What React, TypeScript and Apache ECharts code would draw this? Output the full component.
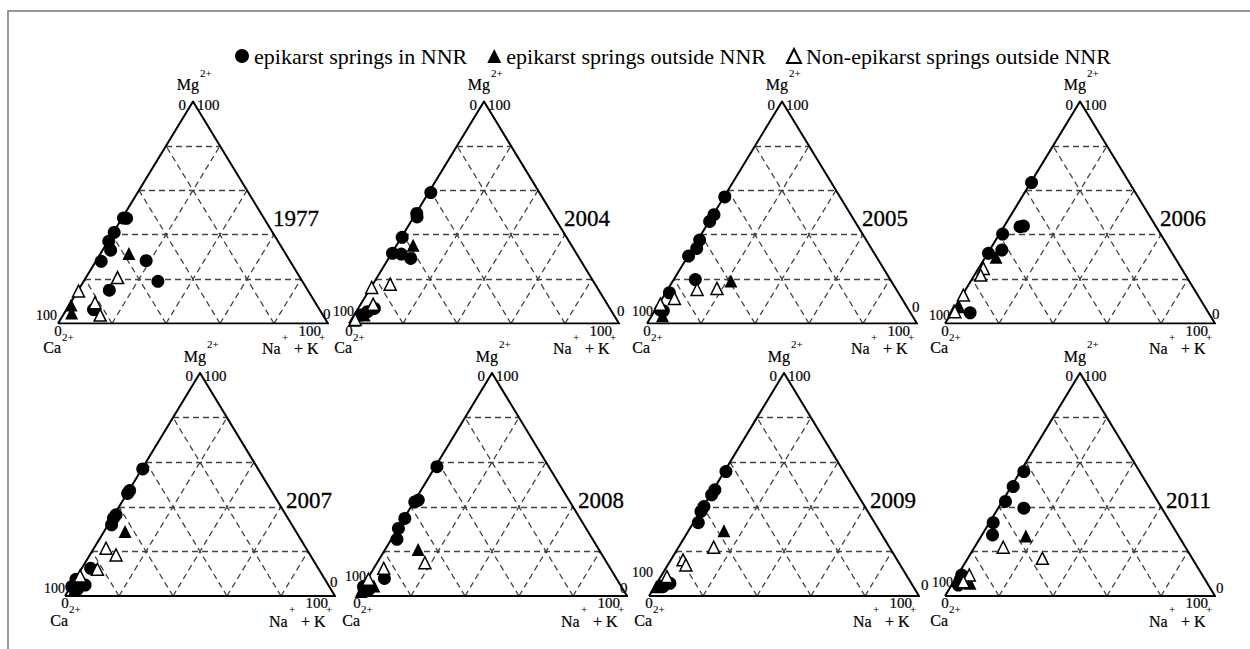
import React, { useEffect, useRef } from "react";
import * as echarts from "echarts";

// ---------- data ----------
const years = ["1977", "2004", "2005", "2006", "2007", "2008", "2009", "2011"];
const seriesNames = [
  "epikarst springs in NNR",
  "epikarst springs outside NNR",
  "Non-epikarst springs outside NNR",
];
const gridLevels = [20, 40, 60, 80];

// each point: [Mg2+ %, Na+ + K+ %]  (Ca2+ % = 100 - Mg - (Na+K))
const in1977 = [[47.5, 0.5], [47.4, 1.7], [41, 0.3], [37, 0.3], [33, 3], [28, 2], [28.3, 18.5], [19, 27.5], [15, 11.5], [6.3, 10]];
const out1977 = [[31.5, 10.5], [8.3, 0.7], [4.7, 2.7]];
const non1977 = [[20.7, 11.7], [14.6, 0.3], [9.4, 9], [3.8, 13.7]];

const in2004 = [[59, 0.8], [49.6, 0.3], [48, 1.2], [38.8, 0.3], [31.6, 0.3], [31.3, 3.7], [29.3, 8.2], [3.8, 2.5], [5.3, 4.2], [6.8, 6]];
const out2004 = [[35.3, 6.1], [1.5, 1.1], [3.8, 3.7]];
const non2004 = [[16.2, 0.3], [17.7, 6.4], [8.7, 4.6], [1.8, 1.4]];

const in2005 = [[57, 0.3], [49, 0.3], [46, 0.2], [37.6, 0.7], [33.8, 1.5], [30.4, 0.2], [19.8, 8], [13.8, 1.4], [6, 2], [5.7, 3.2]];
const out2005 = [[19.2, 21.5], [3.5, 4]];
const non2005 = [[15.3, 10.9], [15.8, 18], [11.3, 4.5], [8.7, 0.6]];

const in2006 = [[63.5, 0.3], [43.6, 6], [43.9, 7.1], [40.3, 1.2], [31.6, 0.3], [33.1, 4.5], [4.8, 6.9]];
const out2006 = [[29.8, 4], [6, 0.3], [7.5, 1.5]];
const non2006 = [[24.8, 1.8], [21.8, 2.3], [12.8, 0.4], [5.3, 1]];

const in2007 = [[57, 0.3], [47.3, 0.3], [46, 0.2], [36.4, 0.7], [34.9, 0.5], [31.9, 1.3], [12.4, 3.3], [7.5, 0.3], [4.2, 0.4], [4.9, 5], [3, 3.1]];
const out2007 = [[28.9, 7.8], [3.4, 2]];
const non2007 = [[21.4, 4.5], [18.4, 9.7], [12, 6], [9, 1.1]];

const in2008 = [[58, 0.6], [42.2, 0.3], [43, 1.2], [34.8, 0.3], [30.3, 0.2], [25.4, 2.1], [7.9, 6.2], [4.2, 0.3], [2.4, 1.5], [3, 3]];
const out2008 = [[20.9, 12.2], [4.5, 4], [2, 0.5]];
const non2008 = [[14.9, 17.7], [12.4, 3.7], [7.5, 0.5]];

const in2009 = [[55.8, 0.6], [47.6, 0.6], [45.4, 0.5], [40.1, 0.3], [37.9, 0.3], [32.9, 1.8], [5.7, 4.9], [4.2, 3.1]];
const out2009 = [[29.3, 13.1], [4.2, 0.6], [5, 1.5]];
const non2009 = [[21.9, 13], [16.2, 4.5], [13.9, 6.7], [8.7, 2.3]];

const in2011 = [[55.8, 1.3], [49.1, 0.7], [42.4, 1.2], [39.4, 9.5], [32.9, 1.4], [27.4, 3.9], [9.4, 1.5], [4.9, 2.5], [7.2, 2]];
const out2011 = [[26.9, 16.5], [5.7, 6.4]];
const non2011 = [[21.9, 10.6], [16.9, 27.6], [9.4, 4.3], [6.4, 3.6]];

const inNNR = [in1977, in2004, in2005, in2006, in2007, in2008, in2009, in2011];
const outNNR = [out1977, out2004, out2005, out2006, out2007, out2008, out2009, out2011];
const nonEpi = [non1977, non2004, non2005, non2006, non2007, non2008, non2009, non2011];

// ---------- layout ----------
const panelLeft = [58, 349, 647, 945, 65, 357, 649, 945];
const panelTop = [101.5, 101.5, 101.5, 101.5, 373, 373, 373, 373];
const panelHeight = [222, 222, 222, 222, 223, 223, 223, 223];
const panelWidth = 270;
const yearLabelMg = [47.5, 47.5, 47.5, 47.5, 43, 43, 43, 43];
// pixel offsets of the "100" label at the Ca corner and the "0" label at the Na+K corner
const leftHundredOffset = [[-1, -8], [5, -12], [6, -12], [5, -8], [0, -8], [9, -20], [4, -24], [8, -14]];
const rightZeroOffset = [[-5, -10], [-2, -13], [-5, -17], [-3, -10], [-5, -14], [-7, -8], [2, -11], [1, -8]];

const FONT = "'Liberation Serif', 'Times New Roman', serif";

const toXY = (p: number[]) => [p[1] + p[0] / 2, p[0]];

function lbl(value: number[], text: string, align: string, offset: number[], fontSize: number, heavy = 0) {
  return {
    value,
    label: {
      show: true,
      position: "inside",
      formatter: text,
      align,
      verticalAlign: "middle",
      offset,
      fontSize,
      fontFamily: FONT,
      color: "#000",
      opacity: 1,
      textBorderColor: "#000",
      textBorderWidth: heavy,
    },
  };
}

function buildOption() {
  const grid: any[] = [];
  const xAxis: any[] = [];
  const yAxis: any[] = [];
  const series: any[] = [];

  years.forEach((yr, i) => {
    grid.push({ left: panelLeft[i], top: panelTop[i], width: panelWidth, height: panelHeight[i] });
    xAxis.push({ gridIndex: i, type: "value", min: 0, max: 100, show: false });
    yAxis.push({ gridIndex: i, type: "value", min: 0, max: 100, show: false });

    const dashed: any[] = [];
    gridLevels.forEach((m) => {
      dashed.push({ coords: [[m / 2, m], [100 - m / 2, m]] });
      dashed.push({ coords: [[m, 0], [m + (100 - m) / 2, 100 - m]] });
      dashed.push({ coords: [[m, 0], [m / 2, m]] });
    });
    series.push({
      type: "lines",
      coordinateSystem: "cartesian2d",
      xAxisIndex: i,
      yAxisIndex: i,
      silent: true,
      z: 2,
      lineStyle: { color: "#444", width: 1.3, type: [6, 4], opacity: 1 },
      data: dashed,
    });
    series.push({
      type: "lines",
      coordinateSystem: "cartesian2d",
      xAxisIndex: i,
      yAxisIndex: i,
      polyline: true,
      silent: true,
      z: 3,
      lineStyle: { color: "#000", width: 2, opacity: 1 },
      data: [{ coords: [[0, 0], [50, 100], [100, 0], [0, 0]] }],
    });

    series.push({
      type: "scatter",
      name: seriesNames[0],
      xAxisIndex: i,
      yAxisIndex: i,
      symbol: "circle",
      symbolSize: 13,
      z: 5,
      itemStyle: { color: "#000", opacity: 1 },
      data: inNNR[i].map(toXY),
    });
    series.push({
      type: "scatter",
      name: seriesNames[1],
      xAxisIndex: i,
      yAxisIndex: i,
      symbol: "triangle",
      symbolSize: 13,
      z: 6,
      itemStyle: { color: "#000", opacity: 1 },
      data: outNNR[i].map(toXY),
    });
    series.push({
      type: "scatter",
      name: seriesNames[2],
      xAxisIndex: i,
      yAxisIndex: i,
      symbol: "triangle",
      symbolSize: 12,
      z: 7,
      itemStyle: { color: "#fff", borderColor: "#000", borderWidth: 1.5, opacity: 1 },
      data: nonEpi[i].map(toXY),
    });

    const ym = yearLabelMg[i];
    series.push({
      type: "scatter",
      name: "labels" + i,
      xAxisIndex: i,
      yAxisIndex: i,
      symbolSize: 1,
      silent: true,
      z: 10,
      itemStyle: { color: "rgba(0,0,0,0)" },
      data: [
        lbl([50, 100], "0", "right", [-7, 3], 15, 0.2),
        lbl([50, 100], "100", "left", [4, 3], 15, 0.2),
        lbl([50, 100], "Mg", "right", [6, -17], 16, 0.2),
        lbl([50, 100], "2+", "left", [7, -29], 11, 0.1),
        lbl([0, 0], "100", "right", leftHundredOffset[i], 14, 0.2),
        lbl([0, 0], "0", "center", [0, 7], 15, 0.2),
        lbl([0, 0], "2+", "left", [4, 13], 11, 0.1),
        lbl([0, 0], "Ca", "right", [3, 24], 16, 0.2),
        lbl([100, 0], "0", "left", rightZeroOffset[i], 15, 0.2),
        lbl([100, 0], "100", "right", [-7, 7], 15, 0.2),
        lbl([100, 0], "Na", "left", [-66, 25], 16, 0.2),
        lbl([100, 0], "+", "left", [-46, 13], 11, 0.1),
        lbl([100, 0], "+ K", "left", [-34, 25], 16, 0.2),
        lbl([100, 0], "+", "left", [-9, 13], 11, 0.1),
        lbl([100 - ym / 2, ym], yr, "left", [9, 0], 23, 0.3),
      ],
    });
  });

  return {
    animation: false,
    backgroundColor: "#fff",
    legend: {
      data: seriesNames,
      top: 40,
      left: 230,
      itemGap: 20,
      itemWidth: 14,
      itemHeight: 14,
      selectedMode: false,
      textStyle: { fontFamily: FONT, fontSize: 22, color: "#000" },
    },
    graphic: [
      {
        type: "rect",
        silent: true,
        shape: { x: 8, y: 11, width: 1300, height: 700 },
        style: { fill: "none", stroke: "#777", lineWidth: 1.5 },
      },
    ],
    grid,
    xAxis,
    yAxis,
    series,
  };
}

export default function App() {
  const ref = useRef<HTMLDivElement>(null);
  useEffect(() => {
    if (!ref.current) return;
    const chart = echarts.init(ref.current, undefined, { renderer: "svg" });
    chart.setOption(buildOption() as any);
    return () => chart.dispose();
  }, []);
  return (
    <div
      ref={ref}
      style={{ position: "absolute", left: 0, top: 0, width: 1250, height: 649, background: "#fff" }}
    />
  );
}
